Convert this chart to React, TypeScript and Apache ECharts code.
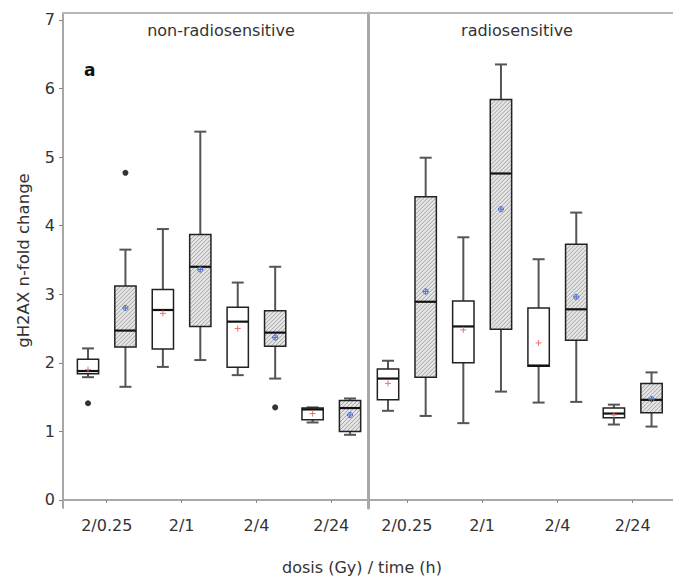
import React, { useEffect, useRef } from "react";
import * as echarts from "echarts";

// dose / time categories
const categories = ["2/0.25", "2/1", "2/4", "2/24"];
const yTicks = [0, 1, 2, 3, 4, 5, 6, 7];
const panelTitles = ["non-radiosensitive", "radiosensitive"];

// [lower whisker, Q1, median, Q3, upper whisker]
const nonSensPlain = [
  [1.79, 1.84, 1.88, 2.05, 2.21],
  [1.94, 2.2, 2.77, 3.07, 3.95],
  [1.82, 1.935, 2.6, 2.81, 3.17],
  [1.13, 1.17, 1.32, 1.34, 1.35],
];
const nonSensHatched = [
  [1.65, 2.23, 2.47, 3.12, 3.65],
  [2.04, 2.53, 3.4, 3.87, 5.37],
  [1.77, 2.24, 2.44, 2.76, 3.4],
  [0.95, 1.0, 1.34, 1.45, 1.48],
];
const nonSensPlainMean = [1.9, 2.72, 2.5, 1.26];
const nonSensHatchedMean = [2.8, 3.36, 2.37, 1.24];
// [category index, value]
const nonSensPlainOutliers = [[0, 1.41]];
const nonSensHatchedOutliers = [
  [0, 4.77],
  [2, 1.35],
];

const radioSensPlain = [
  [1.3, 1.46, 1.77, 1.91, 2.03],
  [1.12, 2.0, 2.53, 2.9, 3.83],
  [1.42, 1.95, 1.96, 2.8, 3.51],
  [1.1, 1.2, 1.26, 1.34, 1.39],
];
const radioSensHatched = [
  [1.225, 1.79, 2.89, 4.42, 4.99],
  [1.58, 2.49, 4.76, 5.84, 6.35],
  [1.43, 2.33, 2.78, 3.73, 4.19],
  [1.07, 1.27, 1.46, 1.7, 1.86],
];
const radioSensPlainMean = [1.7, 2.48, 2.29, 1.24];
const radioSensHatchedMean = [3.04, 4.24, 2.96, 1.47];
const radioSensPlainOutliers: number[][] = [];
const radioSensHatchedOutliers: number[][] = [];

const DODGE = 0.25;
const BOX_HALF = 0.142;
const CAP_HALF = 0.08;
const FONT = "'DejaVu Sans', Verdana, sans-serif";

function buildItems(plain: number[][], hatched: number[][], pm: number[], hm: number[]) {
  const items: number[][] = [];
  categories.forEach((_, k) => {
    items.push([k + 1 - DODGE, ...plain[k], pm[k], 0]);
    items.push([k + 1 + DODGE, ...hatched[k], hm[k], 1]);
  });
  return items;
}

function buildOutliers(po: number[][], ho: number[][]) {
  return [
    ...po.map(([k, v]) => [k + 1 - DODGE, v]),
    ...ho.map(([k, v]) => [k + 1 + DODGE, v]),
  ];
}

function renderBox(params: any, api: any) {
  const x = api.value(0);
  const lo = api.value(1);
  const q1 = api.value(2);
  const med = api.value(3);
  const q3 = api.value(4);
  const hi = api.value(5);
  const mean = api.value(6);
  const hatched = api.value(7) === 1;
  const half = api.size([BOX_HALF, 0])[0];
  const cap = api.size([CAP_HALF, 0])[0];
  const [cx, yLo] = api.coord([x, lo]);
  const yQ1 = api.coord([x, q1])[1];
  const yMed = api.coord([x, med])[1];
  const yQ3 = api.coord([x, q3])[1];
  const yHi = api.coord([x, hi])[1];
  const yMean = api.coord([x, mean])[1];
  const x0 = cx - half;
  const x1 = cx + half;
  const whisker = { stroke: "#555", lineWidth: 2 };
  const children: any[] = [
    { type: "line", shape: { x1: cx, y1: yQ3, x2: cx, y2: yHi }, style: whisker },
    { type: "line", shape: { x1: cx, y1: yQ1, x2: cx, y2: yLo }, style: whisker },
    { type: "line", shape: { x1: cx - cap, y1: yHi, x2: cx + cap, y2: yHi }, style: whisker },
    { type: "line", shape: { x1: cx - cap, y1: yLo, x2: cx + cap, y2: yLo }, style: whisker },
    {
      type: "rect",
      shape: { x: x0, y: yQ3, width: x1 - x0, height: yQ1 - yQ3 },
      style: { fill: hatched ? "#e6e6e6" : "#fff", stroke: "none" },
    },
  ];
  if (hatched) {
    const top = yQ3;
    const bot = yQ1;
    const step = 4;
    for (let c = x0 + top + step / 2; c < x1 + bot; c += step) {
      const xa = Math.max(x0, c - bot);
      const xb = Math.min(x1, c - top);
      if (xb <= xa) continue;
      children.push({
        type: "line",
        shape: { x1: xa, y1: c - xa, x2: xb, y2: c - xb },
        style: { stroke: "#9a9a9a", lineWidth: 0.9 },
      });
    }
  }
  children.push({
    type: "rect",
    shape: { x: x0, y: yQ3, width: x1 - x0, height: yQ1 - yQ3 },
    style: { fill: "none", stroke: "#222", lineWidth: 1.5 },
  });
  children.push({
    type: "line",
    shape: { x1: x0, y1: yMed, x2: x1, y2: yMed },
    style: { stroke: "#111", lineWidth: 2.2 },
  });
  if (hatched) {
    children.push({
      type: "circle",
      shape: { cx, cy: yMean, r: 2.6 },
      style: { fill: "none", stroke: "#4a6fd0", lineWidth: 1 },
    });
    children.push({
      type: "line",
      shape: { x1: cx - 2.6, y1: yMean, x2: cx + 2.6, y2: yMean },
      style: { stroke: "#4a6fd0", lineWidth: 1 },
    });
    children.push({
      type: "line",
      shape: { x1: cx, y1: yMean - 2.6, x2: cx, y2: yMean + 2.6 },
      style: { stroke: "#4a6fd0", lineWidth: 1 },
    });
  } else {
    children.push({
      type: "line",
      shape: { x1: cx - 3, y1: yMean, x2: cx + 3, y2: yMean },
      style: { stroke: "#f07070", lineWidth: 1 },
    });
    children.push({
      type: "line",
      shape: { x1: cx, y1: yMean - 3, x2: cx, y2: yMean + 3 },
      style: { stroke: "#f07070", lineWidth: 1 },
    });
  }
  return { type: "group", children };
}

const AXIS_GRAY = "#a8a8a8";

function bottomAxis(gridIndex: number, min: number, max: number) {
  return {
    type: "value",
    gridIndex,
    min,
    max,
    position: "bottom",
    splitLine: { show: false },
    axisLine: { show: true, lineStyle: { color: AXIS_GRAY, width: 2 } },
    axisTick: {
      show: true,
      customValues: [1, 2, 3, 4],
      length: 3,
      lineStyle: { color: "#888", width: 1 },
    },
    axisLabel: {
      show: true,
      customValues: [1, 2, 3, 4],
      formatter: (v: number) => categories[Math.round(v) - 1] ?? "",
      color: "#333",
      fontSize: 16,
      fontFamily: FONT,
      margin: 9,
    },
  };
}

function topAxis(gridIndex: number, min: number, max: number) {
  return {
    type: "value",
    gridIndex,
    min,
    max,
    position: "top",
    splitLine: { show: false },
    axisLine: { show: true, lineStyle: { color: "#b8b8b8", width: 2 } },
    axisTick: { show: false },
    axisLabel: { show: false },
  };
}

export default function App() {
  const ref = useRef<HTMLDivElement>(null);
  useEffect(() => {
    if (!ref.current) return;
    const chart = echarts.init(ref.current, null, { renderer: "svg" });
    const yMin = -0.117;
    const yMax = 7.1;
    const option: any = {
      animation: false,
      backgroundColor: "#fff",
      grid: [
        { left: 63, right: 305, top: 13, bottom: 71 },
        { left: 368, right: 0, top: 13, bottom: 71 },
      ],
      xAxis: [
        bottomAxis(0, 0.416, 4.49),
        topAxis(0, 0.416, 4.49),
        bottomAxis(1, 0.484, 4.535),
        topAxis(1, 0.484, 4.535),
      ],
      yAxis: [
        {
          type: "value",
          gridIndex: 0,
          min: yMin,
          max: yMax,
          name: "gH2AX n-fold change",
          nameLocation: "middle",
          nameGap: 31,
          nameTextStyle: { color: "#333", fontSize: 16.5, fontFamily: FONT },
          splitLine: { show: false },
          axisLine: { show: true, lineStyle: { color: AXIS_GRAY, width: 2 } },
          axisTick: {
            show: true,
            customValues: yTicks,
            length: 4,
            lineStyle: { color: "#888", width: 1 },
          },
          axisLabel: {
            show: true,
            customValues: yTicks,
            color: "#333",
            fontSize: 16,
            fontFamily: FONT,
            margin: 8,
          },
        },
        {
          type: "value",
          gridIndex: 1,
          min: yMin,
          max: yMax,
          splitLine: { show: false },
          axisLine: { show: true, lineStyle: { color: AXIS_GRAY, width: 3 } },
          axisTick: { show: false },
          axisLabel: { show: false },
        },
      ],
      series: [
        {
          type: "custom",
          xAxisIndex: 0,
          yAxisIndex: 0,
          renderItem: renderBox,
          encode: { x: 0, y: [1, 2, 3, 4, 5] },
          data: buildItems(nonSensPlain, nonSensHatched, nonSensPlainMean, nonSensHatchedMean),
        },
        {
          type: "custom",
          xAxisIndex: 2,
          yAxisIndex: 1,
          renderItem: renderBox,
          encode: { x: 0, y: [1, 2, 3, 4, 5] },
          data: buildItems(radioSensPlain, radioSensHatched, radioSensPlainMean, radioSensHatchedMean),
        },
        {
          type: "scatter",
          xAxisIndex: 0,
          yAxisIndex: 0,
          symbol: "circle",
          symbolSize: 6,
          itemStyle: { color: "#000" },
          data: buildOutliers(nonSensPlainOutliers, nonSensHatchedOutliers),
        },
        {
          type: "scatter",
          xAxisIndex: 2,
          yAxisIndex: 1,
          symbol: "circle",
          symbolSize: 6,
          itemStyle: { color: "#000" },
          data: buildOutliers(radioSensPlainOutliers, radioSensHatchedOutliers),
        },
      ],
      graphic: [
        {
          type: "text",
          x: 221,
          y: 30,
          style: {
            text: panelTitles[0],
            fill: "#333",
            fontSize: 16,
            fontFamily: FONT,
            textAlign: "center",
            textVerticalAlign: "middle",
          },
        },
        {
          type: "text",
          x: 517,
          y: 30,
          style: {
            text: panelTitles[1],
            fill: "#333",
            fontSize: 16,
            fontFamily: FONT,
            textAlign: "center",
            textVerticalAlign: "middle",
          },
        },
        {
          type: "text",
          x: 84,
          y: 70,
          style: {
            text: "a",
            fill: "#111",
            fontSize: 17,
            fontWeight: "bold",
            fontFamily: FONT,
            textAlign: "left",
            textVerticalAlign: "middle",
          },
        },
        {
          type: "text",
          x: 362,
          y: 567,
          style: {
            text: "dosis (Gy) / time (h)",
            fill: "#333",
            fontSize: 16,
            fontFamily: FONT,
            textAlign: "center",
            textVerticalAlign: "middle",
          },
        },
      ],
    };
    chart.setOption(option);
    return () => chart.dispose();
  }, []);
  return (
    <div
      ref={ref}
      style={{ position: "absolute", left: 0, top: 0, width: 673, height: 579 }}
    />
  );
}
